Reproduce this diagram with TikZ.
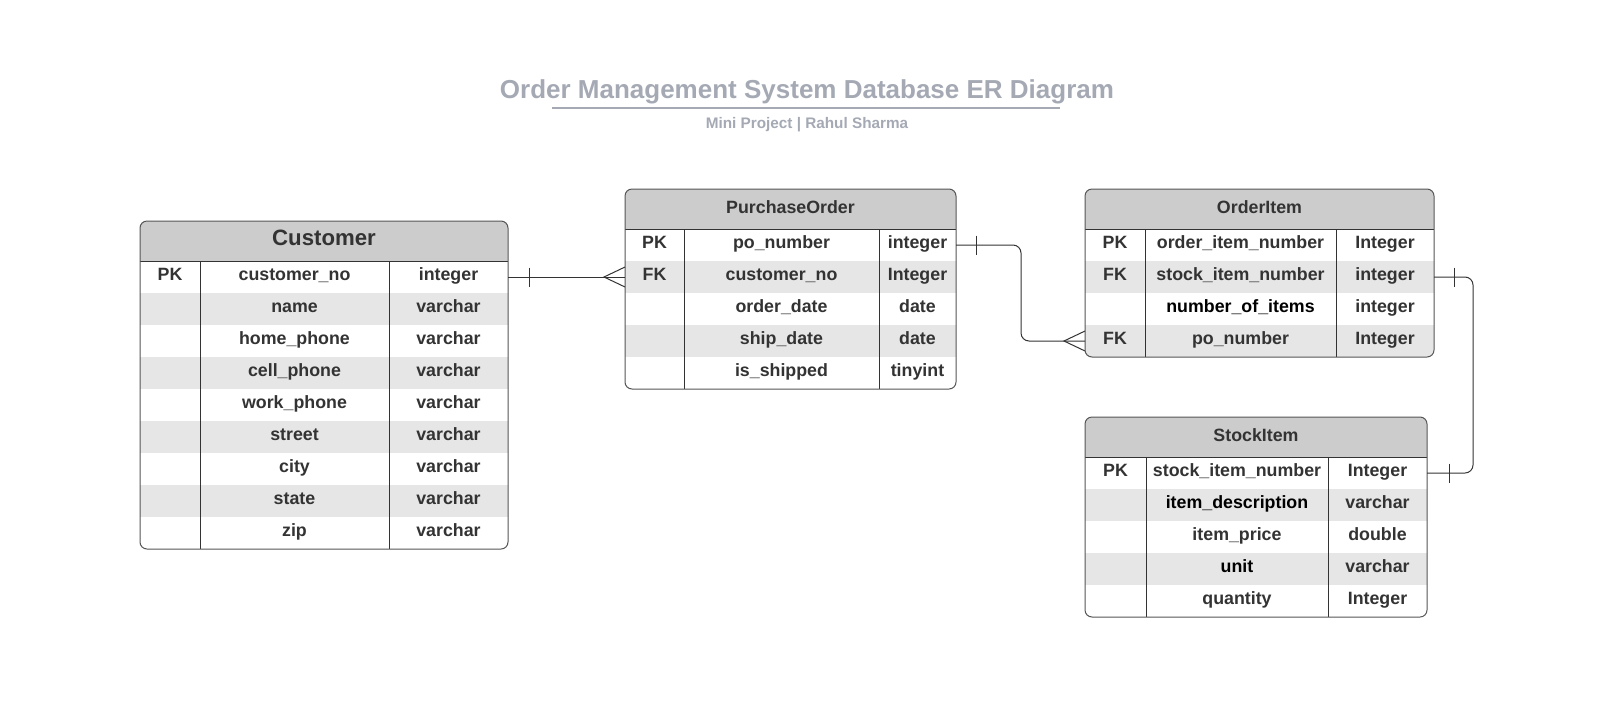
\documentclass[tikz,border=0pt]{standalone}
\usepackage{fontspec}
\setmainfont{Liberation Sans}
\usetikzlibrary{calc}
\definecolor{headgray}{HTML}{CCCCCC}
\definecolor{rowgray}{HTML}{E6E6E6}
\definecolor{txtgray}{HTML}{333333}
\definecolor{framegray}{HTML}{555555}
\definecolor{titlegray}{HTML}{A4A9B4}
\tikzset{
  celllbl/.style  = {font=\bfseries\fontsize{17.8}{20}\selectfont,
                     text=txtgray, inner sep=0pt, anchor=base},
  titlelbl/.style = {font=\bfseries\fontsize{26}{30}\selectfont,
                     text=titlegray, inner sep=0pt, anchor=base},
  sublbl/.style   = {font=\bfseries\fontsize{15.3}{18}\selectfont,
                     text=titlegray, inner sep=0pt, anchor=base},
  rowbox/.style   = {rectangle, inner sep=0pt, outer sep=0pt,
                     minimum height=32pt, anchor=north west},
  frame/.style    = {draw=framegray, line width=1pt, rounded corners=7pt},
  grid/.style     = {draw=txtgray, line width=1pt},
  rel/.style      = {draw=txtgray, line width=1pt},
}
% table: name, x, y, key width, field width, type width, title, rows
\newcommand{\ertable}[8]{%
  \begin{scope}[shift={(#2,#3)}]
    \pgfmathsetmacro{\colA}{#4}
    \pgfmathsetmacro{\colB}{#4+#5}
    \pgfmathsetmacro{\tblW}{#4+#5+#6}
    \foreach \k/\f/\t [count=\r] in {#8} {\xdef\nrows{\r}}
    \pgfmathsetmacro{\tblH}{40+32*\nrows}
    \begin{scope}
      \clip[rounded corners=7pt] (0,0) rectangle (\tblW,\tblH);
      \fill[headgray] (0,0) rectangle (\tblW,40);
      \foreach \k/\f/\t [count=\r] in {#8} {
        \pgfmathsetmacro{\rowY}{40+32*(\r-1)}
        \ifodd\r\relax \def\rowcol{white}\else \def\rowcol{rowgray}\fi
        \node[rowbox, fill=\rowcol, minimum width=\tblW pt] (#1-\r) at (0,\rowY) {};
        \node[celllbl] (#1-\r-k) at (\colA/2,\rowY+19.8) {\k};
        \node[celllbl] (#1-\r-f) at ({(\colA+\colB)/2},\rowY+19.8) {\f};
        \node[celllbl] (#1-\r-t) at ({(\colB+\tblW)/2},\rowY+19.8) {\t};
      }
    \end{scope}
    \node[celllbl] (#1) at (\tblW/2,24.5) {#7};
    \draw[grid] (0,40) -- (\tblW,40);
    \draw[grid] (\colA,40) -- (\colA,\tblH);
    \draw[grid] (\colB,40) -- (\colB,\tblH);
    \draw[frame] (0,0) rectangle (\tblW,\tblH);
  \end{scope}}
\newcommand{\onebar}[2]{\draw[rel] ($(#1)+(#2,-9.5)$) -- ++(0,19);}
\newcommand{\crowfoot}[1]{\draw[rel] ($(#1)+(0,-10)$) -- ($(#1)+(-21,0)$) -- ($(#1)+(0,10)$);}

\begin{document}
\begin{tikzpicture}[x=1pt, y=-1pt]
  \fill[white] (0,0) rectangle (1620,716);
  \useasboundingbox (0,0) rectangle (1620,716);

  % heading
  \node[titlelbl] (title) at (807,98.5) {Order Management System Database ER Diagram};
  \coordinate (ul-l) at (552,107.7);
  \coordinate (ul-r) at (1060,107.7);
  \draw[titlegray, line width=2pt] (ul-l) -- (ul-r);
  \node[sublbl] (subtitle) at (807,128.5) {Mini Project | Rahul Sharma};

  % tables
  \ertable{cust}{140}{221}{60}{189}{119}{\fontsize{22.2}{24}\selectfont Customer}{
    PK/customer\_no/integer, {}/name/varchar, {}/home\_phone/varchar,
    {}/cell\_phone/varchar, {}/work\_phone/varchar, {}/street/varchar,
    {}/city/varchar, {}/state/varchar, {}/zip/varchar}
  \ertable{po}{625}{189}{59}{195}{77}{PurchaseOrder}{
    PK/po\_number/integer, FK/customer\_no/Integer, {}/order\_date/date,
    {}/ship\_date/date, {}/is\_shipped/tinyint}
  \ertable{oi}{1085}{189}{60}{191}{98}{OrderItem}{
    PK/order\_item\_number/Integer, FK/stock\_item\_number/integer,
    {}/\textcolor{black}{number\_of\_items}/integer, FK/po\_number/Integer}
  \ertable{si}{1085}{417}{61}{182}{99}{StockItem}{
    PK/stock\_item\_number/Integer, {}/\textcolor{black}{item\_description}/varchar,
    {}/item\_price/double, {}/\textcolor{black}{unit}/varchar, {}/quantity/Integer}

  % relations
  \draw[rel] (cust-1.east) -- (po-2.west);
  \onebar{cust-1.east}{21}
  \crowfoot{po-2.west}
  \draw[rel, rounded corners=8pt] (po-1.east) -- ++(65,0) |- (oi-4.west);
  \onebar{po-1.east}{20}
  \crowfoot{oi-4.west}
  \draw[rel, rounded corners=8pt] (oi-2.east) -- ++(39,0) |- (si-1.east);
  \onebar{oi-2.east}{20}
  \onebar{si-1.east}{22}
\end{tikzpicture}
\end{document}
